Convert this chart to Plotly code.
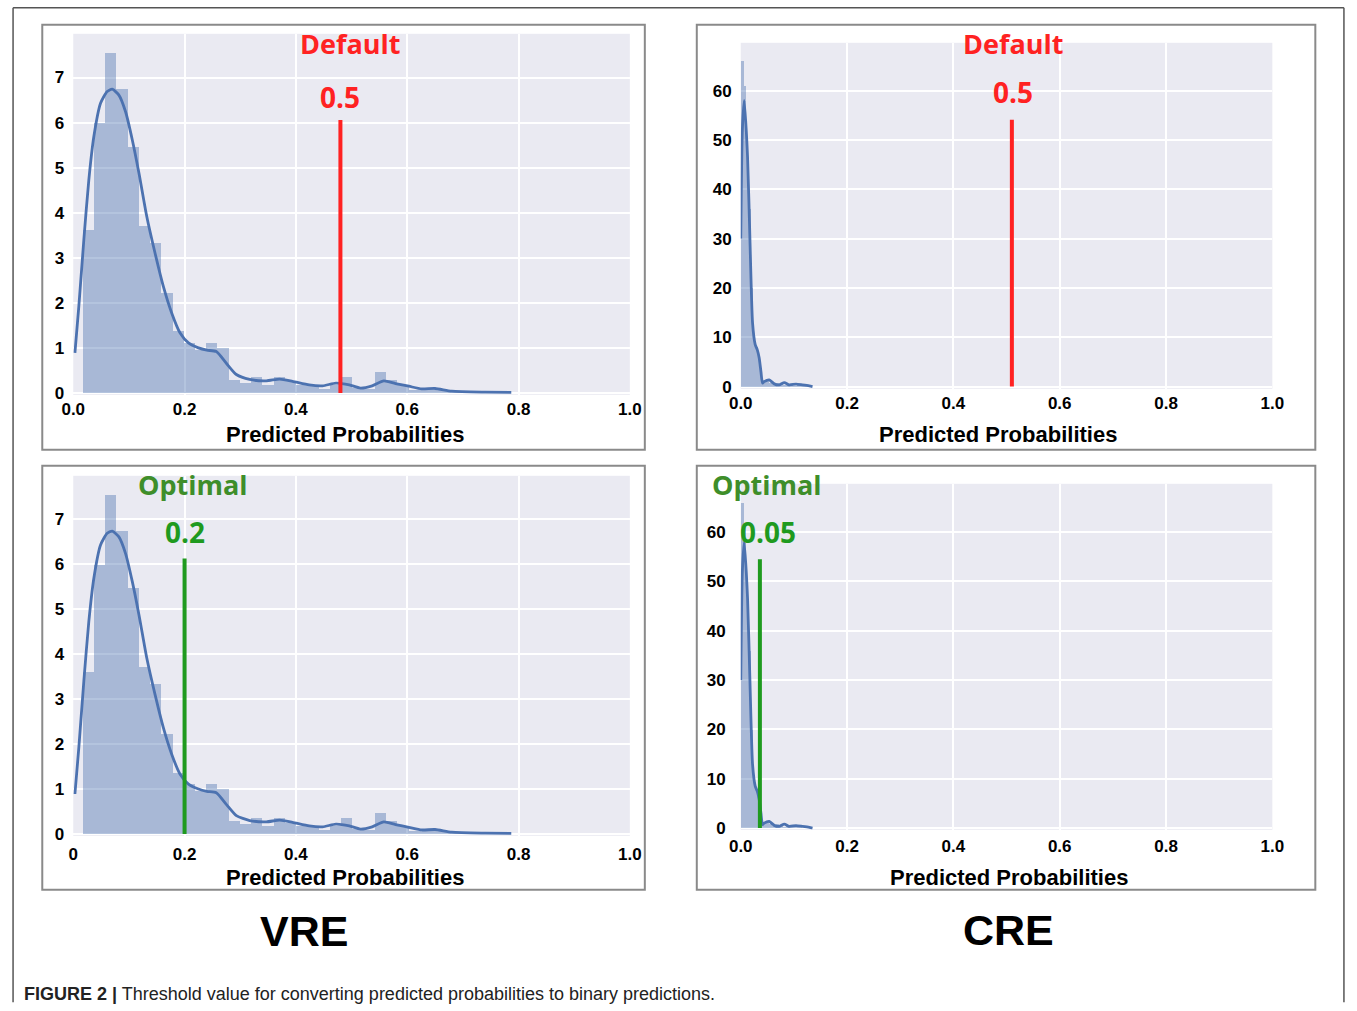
import plotly.graph_objects as go

W, H = 1357, 1011

# ---------------- data ----------------
# VRE histogram (density) – bin centers and heights
vre_bin_centers = [0.0273, 0.0475, 0.0677, 0.0879, 0.1081, 0.1283, 0.1485, 0.1687, 0.1889, 0.2091,
                   0.2293, 0.2495, 0.2697, 0.2899, 0.3101, 0.3303, 0.3505, 0.3707, 0.3909, 0.4111,
                   0.4313, 0.4515, 0.4717, 0.4919, 0.5121, 0.5323, 0.5525, 0.5727, 0.5929, 0.6131,
                   0.6333, 0.6535, 0.6737, 0.6939, 0.7141, 0.7343, 0.7545, 0.7747]
vre_bin_heights = [3.62, 5.99, 7.55, 6.75, 5.47, 3.71, 3.34, 2.22, 1.37, 1.11,
                   0.96, 1.11, 1.00, 0.30, 0.22, 0.35, 0.18, 0.35, 0.26, 0.18,
                   0.15, 0.09, 0.18, 0.37, 0.11, 0.09, 0.48, 0.30, 0.18, 0.07,
                   0.11, 0.11, 0.04, 0.02, 0.02, 0.02, 0.02, 0.02]
vre_bin_width = 0.0202

# VRE KDE curve
vre_kde_x = [0.003, 0.010, 0.019, 0.028, 0.037, 0.049, 0.061, 0.070, 0.082, 0.094,
             0.106, 0.118, 0.132, 0.147, 0.162, 0.177, 0.192, 0.207, 0.225, 0.240,
             0.257, 0.275, 0.293, 0.317, 0.347, 0.371, 0.394, 0.424, 0.448, 0.472,
             0.496, 0.516, 0.537, 0.558, 0.579, 0.603, 0.626, 0.650, 0.680, 0.740, 0.787]
vre_kde_y = [0.89, 1.92, 3.40, 4.73, 5.69, 6.43, 6.69, 6.74, 6.61, 6.24,
             5.62, 4.88, 3.92, 3.10, 2.36, 1.77, 1.33, 1.11, 1.00, 0.95,
             0.92, 0.66, 0.41, 0.30, 0.27, 0.31, 0.26, 0.18, 0.16, 0.22,
             0.18, 0.11, 0.16, 0.27, 0.21, 0.15, 0.09, 0.10, 0.04, 0.02, 0.015]

# CRE histogram (density)
cre_bin_centers = [0.0026, 0.0070, 0.0114, 0.0158, 0.0202, 0.0246, 0.0290, 0.0334, 0.0378, 0.0422,
                   0.0466, 0.0510, 0.0554, 0.0598, 0.0642, 0.0686, 0.0730, 0.0774, 0.0818, 0.0862,
                   0.0906, 0.0950, 0.0994, 0.1038, 0.1082, 0.1126, 0.1170, 0.1214, 0.1258, 0.1302]
cre_bin_heights = [66, 61, 50, 36, 20, 10, 8, 6, 3, 0.8,
                   1.0, 1.2, 0.8, 0.5, 0.3, 0.8, 0.3, 0.5, 0.3, 0.4,
                   0.2, 0.3, 0.2, 0.2, 0.3, 0.2, 0.1, 0.2, 0.1, 0.05]
cre_bin_width = 0.0044

# CRE KDE curve
cre_kde_x = [0.0, 0.003, 0.0066, 0.0128, 0.0173, 0.0222, 0.0272, 0.031, 0.0347, 0.038,
             0.041, 0.044, 0.0535, 0.063, 0.072, 0.082, 0.091, 0.104, 0.116, 0.129, 0.135]
cre_kde_y = [30, 52, 58, 46.6, 29.7, 12.9, 8.5, 7.5, 5.8, 3.0,
             0.7, 1.0, 1.36, 0.55, 0.34, 0.81, 0.34, 0.5, 0.34, 0.14, 0.0]

# thresholds (where drawn) and their labels
threshold_x = [0.48, 0.51, 0.20, 0.036]          # TL, TR, BL, BR
threshold_top = [6.06, 54.1, 6.13, 54.5]
threshold_names = ["Default", "Default", "Optimal", "Optimal"]
threshold_labels = ["0.5", "0.5", "0.2", "0.05"]

x_tickvals = [0.0, 0.2, 0.4, 0.6, 0.8, 1.0]
x_ticktext_a = ["0.0", "0.2", "0.4", "0.6", "0.8", "1.0"]
x_ticktext_b = ["0", "0.2", "0.4", "0.6", "0.8", "1.0"]
vre_yticks = [0, 1, 2, 3, 4, 5, 6, 7]
cre_yticks = [0, 10, 20, 30, 40, 50, 60]

# ---------------- helpers ----------------
# the photographed figure occupies ~1334x1003 px starting at x~11.7, y~0
OX, OY, RW, RH = 11.7, 0.2, 1334.0, 1003.0


def fx(p):
    return min(max((p - OX) / RW, 0.0008), 0.9992)


def fy(p):
    return min(max(1 - (p - OY) / RH, 0.0008), 0.9992)


BAR_COLOR = "rgba(76,114,176,0.42)"
LINE_COLOR = "#4C72B0"
RED = "#FF2222"
GREEN_TXT = "#3E8E2A"
GREEN = "#1F9A1F"
TXT_FONT = "Open Sans, Lato, sans-serif"
AX_FONT = "Liberation Sans, Arial, sans-serif"

fig = go.Figure()

panels = [
    ("x", "y", vre_bin_centers, vre_bin_heights, vre_bin_width, vre_kde_x, vre_kde_y, RED),
    ("x2", "y2", cre_bin_centers, cre_bin_heights, cre_bin_width, cre_kde_x, cre_kde_y, RED),
    ("x3", "y3", vre_bin_centers, vre_bin_heights, vre_bin_width, vre_kde_x, vre_kde_y, GREEN),
    ("x4", "y4", cre_bin_centers, cre_bin_heights, cre_bin_width, cre_kde_x, cre_kde_y, GREEN),
]

for i, (xa, ya, bc, bh, bw, kx, ky, col) in enumerate(panels):
    fig.add_trace(go.Bar(x=bc, y=bh, width=bw, marker=dict(color=BAR_COLOR, line=dict(width=0)),
                         xaxis=xa, yaxis=ya, showlegend=False, hoverinfo="skip"))
    fig.add_trace(go.Scatter(x=kx, y=ky, mode="lines",
                             line=dict(color=LINE_COLOR, width=2.8, shape="spline", smoothing=0.6),
                             xaxis=xa, yaxis=ya, showlegend=False, cliponaxis=True))
    fig.add_trace(go.Scatter(x=[threshold_x[i], threshold_x[i]], y=[0, threshold_top[i]], mode="lines",
                             line=dict(color=col, width=4), xaxis=xa, yaxis=ya, showlegend=False))

# axis domains in (reference) pixels, y range, x-label standoff, y-label standoff
dom = {
    1: ((73, 630), (34, 395), [-0.04, 7.97], 2, 8),
    2: ((741, 1273), (43, 389), [-0.45, 69.7], 2, 8),
    3: ((73, 630), (476, 836), [-0.04, 7.97], 6, 8),
    4: ((741, 1273), (484, 830), [-0.35, 69.8], 4, 14),
}

grid = dict(showgrid=True, gridcolor="white", gridwidth=1.6, zeroline=False, showline=False, ticks="")
tickfont = dict(family=AX_FONT, size=17, color="black", weight="bold")

layout_axes = {}
for k, ((x0, x1), (y0, y1), yr, xs, ys) in dom.items():
    sx = "" if k == 1 else str(k)
    xticktext = x_ticktext_b if k == 3 else x_ticktext_a
    yt = vre_yticks if k in (1, 3) else cre_yticks
    layout_axes["xaxis" + sx] = dict(domain=[fx(x0), fx(x1)], range=[0, 1.0], anchor="y" + sx,
                                     tickvals=x_tickvals, ticktext=xticktext, tickfont=tickfont,
                                     ticklabelstandoff=xs, **grid)
    layout_axes["yaxis" + sx] = dict(domain=[fy(y1), fy(y0)], range=yr, anchor="x" + sx,
                                     tickvals=yt, tickfont=tickfont,
                                     ticklabelstandoff=ys, **grid)

fig.update_layout(**layout_axes)

# ---------------- shapes ----------------
shapes = []
for (x0, y0, x1, y1) in [(42, 25, 645, 450), (697, 25, 1316, 450), (42, 466, 645, 890), (697, 466, 1316, 890)]:
    shapes.append(dict(type="rect", xref="paper", yref="paper", x0=fx(x0), x1=fx(x1), y0=fy(y1), y1=fy(y0),
                       line=dict(color="#8a8a8a", width=2), fillcolor="rgba(0,0,0,0)", layer="below"))
for (x0, y0, x1, y1) in [(8, 8, 8, 1011), (8, 8, 1355, 8), (1355, 8, 1355, 1011)]:
    shapes.append(dict(type="line", xref="paper", yref="paper", x0=fx(x0), x1=fx(x1), y0=fy(y0), y1=fy(y1),
                       line=dict(color="#555555", width=1.5)))

# ---------------- annotations ----------------
ann = []


def add_text(text, x, y, size, color, family, bold=True, xanchor="center"):
    ann.append(dict(text=(f"<b>{text}</b>" if bold else text), x=fx(x), y=fy(y), xref="paper", yref="paper",
                    xanchor=xanchor, yanchor="middle", showarrow=False,
                    font=dict(size=size, color=color, family=family)))


name_pos = [(350, 44), (1013, 44), (193, 485), (767, 485)]
val_pos = [(340, 97), (1013, 92), (185, 532), (768, 532)]
for i in range(4):
    c_name = RED if i < 2 else GREEN_TXT
    c_val = RED if i < 2 else GREEN
    add_text(threshold_names[i], name_pos[i][0], name_pos[i][1], 27, c_name, TXT_FONT)
    add_text(threshold_labels[i], val_pos[i][0], val_pos[i][1], 28, c_val, TXT_FONT)

for (x, y) in [(345, 435), (998, 435), (345, 878), (1009, 878)]:
    add_text("Predicted Probabilities", x, y, 22, "black", AX_FONT)

add_text("VRE", 304, 931, 43, "black", AX_FONT)
add_text("CRE", 1009, 930, 43, "black", AX_FONT)

ann.append(dict(text="<b>FIGURE 2 |</b> Threshold value for converting predicted probabilities to binary predictions.",
                x=fx(22), y=fy(994), xref="paper", yref="paper", xanchor="left", yanchor="middle",
                showarrow=False, font=dict(size=18, color="#222222", family=AX_FONT)))

fig.update_layout(
    width=W, height=H, margin=dict(l=0, r=0, t=0, b=0),
    paper_bgcolor="white", plot_bgcolor="#EAEAF2",
    shapes=shapes, annotations=ann, showlegend=False, bargap=0,
)

post = ("document.body.style.margin='0px';"
        "document.body.style.padding='0px';"
        "document.body.style.overflow='hidden';"
        "document.documentElement.style.overflow='hidden';")

fig.write_html("out.html", config={"responsive": False, "displayModeBar": False}, post_script=post)
